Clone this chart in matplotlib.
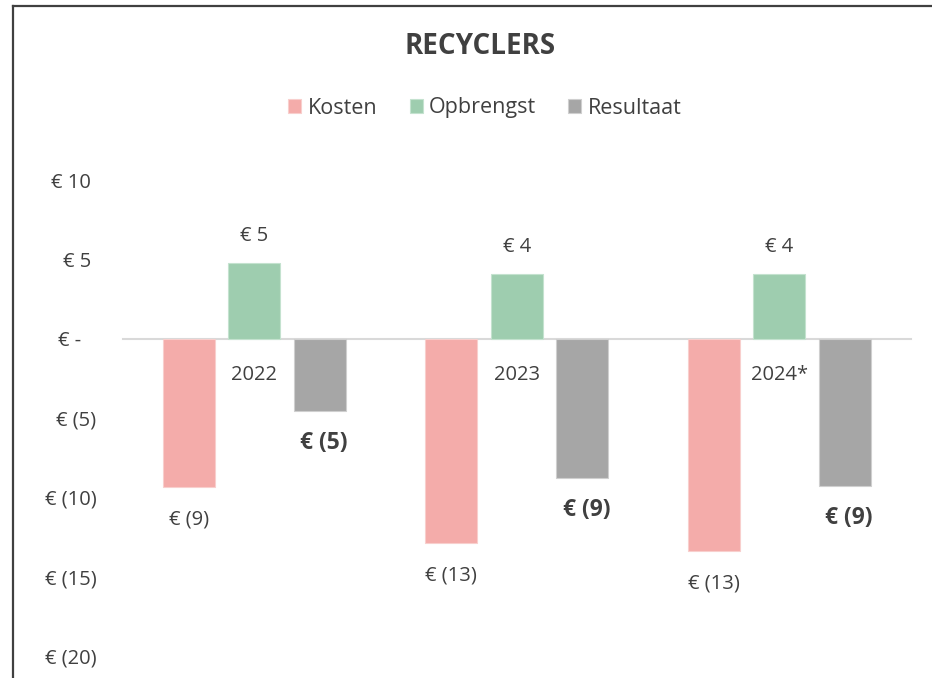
import numpy as np
import matplotlib.pyplot as plt
from matplotlib.lines import Line2D

plt.rcParams['font.family'] = ['Open Sans', 'DejaVu Sans']

jaren = ['2022', '2023', '2024*']
kosten = [-9.37, -12.9, -13.4]
opbrengst = [4.78, 4.09, 4.09]
resultaat = [-4.59, -8.81, -9.31]
yticks = [10, 5, 0, -5, -10, -15, -20]
ytick_labels = ['€ 10 ', '€ 5 ', '€ -   ', '€ (5)', '€ (10)', '€ (15)', '€ (20)']

def euro(v):
    r = int(round(abs(v)))
    return f'€ ({r})' if v < 0 else f'€ {r}'

tekst = '#404040'
kleuren = ['#F4ACAA', '#9ECDAF', '#A6A6A6']

fig = plt.figure(figsize=(9.32, 6.78), dpi=100)
ax = fig.add_axes([123/932, 22/678, 787.5/932, 476/678])

x = np.arange(len(jaren))
w = 0.198
off = 0.25
b1 = ax.bar(x - off, kosten, w, color=kleuren[0], edgecolor='#f8cfcd', linewidth=0.8, label='Kosten')
b2 = ax.bar(x, opbrengst, w, color=kleuren[1], edgecolor='#c4e2cf', linewidth=0.8, label='Opbrengst')
b3 = ax.bar(x + off, resultaat, w, color=kleuren[2], edgecolor='#cfcfcf', linewidth=0.8, label='Resultaat')

for xi, v in zip(x - off, kosten):
    ax.annotate(euro(v), (xi, v), xytext=(0, -23), textcoords='offset points',
                ha='center', va='center', fontsize=14.5, color=tekst)
for xi, v in zip(x, opbrengst):
    ax.annotate(euro(v), (xi, v), xytext=(0, 19), textcoords='offset points',
                ha='center', va='center', fontsize=14.5, color=tekst)
for xi, v in zip(x + off, resultaat):
    ax.annotate(euro(v), (xi, v), xytext=(3, -23), textcoords='offset points',
                ha='center', va='center', fontsize=16.5, fontweight='bold', color=tekst)

ax.set_xlim(-0.5, 2.5)
ax.set_ylim(-20, 10)
ax.set_yticks(yticks)
ax.set_yticklabels(ytick_labels)
ax.set_xticks(x)
ax.set_xticklabels(jaren)
ax.tick_params(axis='y', length=0, pad=19, labelsize=14.5, labelcolor=tekst)
ax.tick_params(axis='x', length=0, pad=19, labelsize=14.5, labelcolor=tekst)
for s in ['top', 'right', 'left']:
    ax.spines[s].set_visible(False)
ax.spines['bottom'].set_position(('data', 0))
ax.spines['bottom'].set_color('#d9d9d9')
ax.spines['bottom'].set_linewidth(1.5)
ax.spines['bottom'].set_zorder(0)

fig.text(480/932, 1 - 47/678, 'RECYCLERS', ha='center', va='center',
         fontsize=20, fontweight='bold', color=tekst)
fig.legend(handles=[b1, b2, b3], loc='center', bbox_to_anchor=(485/932, 1 - 108/678),
           ncol=3, frameon=False, fontsize=15.5, handlelength=0.6, handleheight=0.6,
           handletextpad=0.3, columnspacing=1.5, labelcolor=tekst)

# rand van de grafiek
fig.add_artist(Line2D([13/932, 13/932], [-0.1, 1 - 6/678], color='#404040', lw=1.6))
fig.add_artist(Line2D([13/932, 1.1], [1 - 6/678, 1 - 6/678], color='#404040', lw=1.6))

fig.savefig('out.png', dpi=100)
